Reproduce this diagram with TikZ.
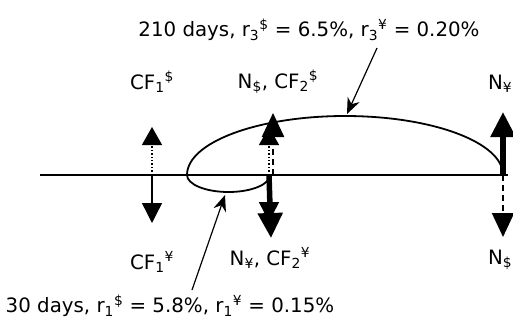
\documentclass[tikz,border=0pt]{standalone}
\usepackage{fontspec}
\setmainfont{DejaVu Sans}
\usetikzlibrary{arrows.meta, positioning}

\begin{document}
\begin{tikzpicture}[
        x=1pt, y=-1pt,
        lbl/.style={inner sep=0pt, font=\fontsize{19.8}{23}\selectfont},
        cfdol/.style={line width=1.4pt, dotted, -{Triangle[length=18pt,width=20pt]}},
        cfyen/.style={line width=1.4pt, -{Triangle[length=20pt,width=20pt]}},
        ndol/.style={line width=2.5pt, dash pattern=on 6pt off 4pt, -{Triangle[length=24pt,width=22pt]}},
        nyen/.style={line width=5.5pt, -{Triangle[length=25pt,width=24pt]}},
        pointer/.style={line width=1.2pt, -{Stealth[length=16pt,width=13pt]}}
      ]
        \useasboundingbox (0,0) rectangle (513,322);
        % time line and the two periods
        \coordinate (west) at (40,175);
        \coordinate (east) at (508,175);
        \draw[line width=1.3pt] (west) -- (east);
        \draw[line width=1.8pt] (187,175) arc[start angle=180, end angle=0, x radius=158pt, y radius=59pt];
        \draw[line width=1.8pt] (187,175) arc[start angle=180, end angle=360, x radius=41.5pt, y radius=17pt];

        \coordinate (t1) at (152,175);
        \coordinate (t2) at (269,175);
        \coordinate (t2n) at (273,175);
        \coordinate (t3) at (503,175);

        \coordinate (up1) at (152,127);
        \coordinate (up2) at (269,127);
        \coordinate (up2n) at (273,113);
        \coordinate (up3) at (503,112);
        \coordinate (dn1) at (152,223);
        \coordinate (dn2) at (269,222);
        \coordinate (dn2n) at (271,238);
        \coordinate (dn3) at (503,237);

        \draw[cfdol] (t1) -- (up1);
        \draw[cfyen] (t1) -- (dn1);
        \draw[cfdol] (t2) -- (up2);
        \draw[ndol] (t2n) -- (up2n);
        \draw[cfyen] (t2) -- (dn2);
        \draw[nyen] (t2) -- (dn2n);
        \draw[nyen] (t3) -- (up3);
        \draw[ndol, line width=2pt] (t3) -- (dn3);

        \node[lbl] (cfdolone) at (152,82) {CF\textsubscript{1}\textsuperscript{\$}};
        \node[lbl] (ndolcfdol) at (278,82) {N\textsubscript{\$}, CF\textsubscript{2}\textsuperscript{\$}};
        \node[lbl, anchor=east] (nyentop) at (512.5,84) {N\textsubscript{¥}};
        \node[lbl] (cfyenone) at (152,262) {CF\textsubscript{1}\textsuperscript{¥}};
        \node[lbl] (nyencfyen) at (270,258) {N\textsubscript{¥}, CF\textsubscript{2}\textsuperscript{¥}};
        \node[lbl, anchor=east] (ndolbot) at (512.5,260) {N\textsubscript{\$}};

        \node[lbl] (long) at (309,30) {210 days, r\textsubscript{3}\textsuperscript{\$} = 6.5\%, r\textsubscript{3}\textsuperscript{¥} = 0.20\%};
        \node[lbl] (short) at (170,306) {30 days, r\textsubscript{1}\textsuperscript{\$} = 5.8\%, r\textsubscript{1}\textsuperscript{¥} = 0.15\%};

        \coordinate (longfoot) at (377,48);
        \coordinate (longhit) at (347,114);
        \coordinate (shortfoot) at (192,290);
        \coordinate (shorthit) at (225,195);
        \draw[pointer] (longfoot) -- (longhit);
        \draw[pointer] (shortfoot) -- (shorthit);
      \end{tikzpicture}
\end{document}
